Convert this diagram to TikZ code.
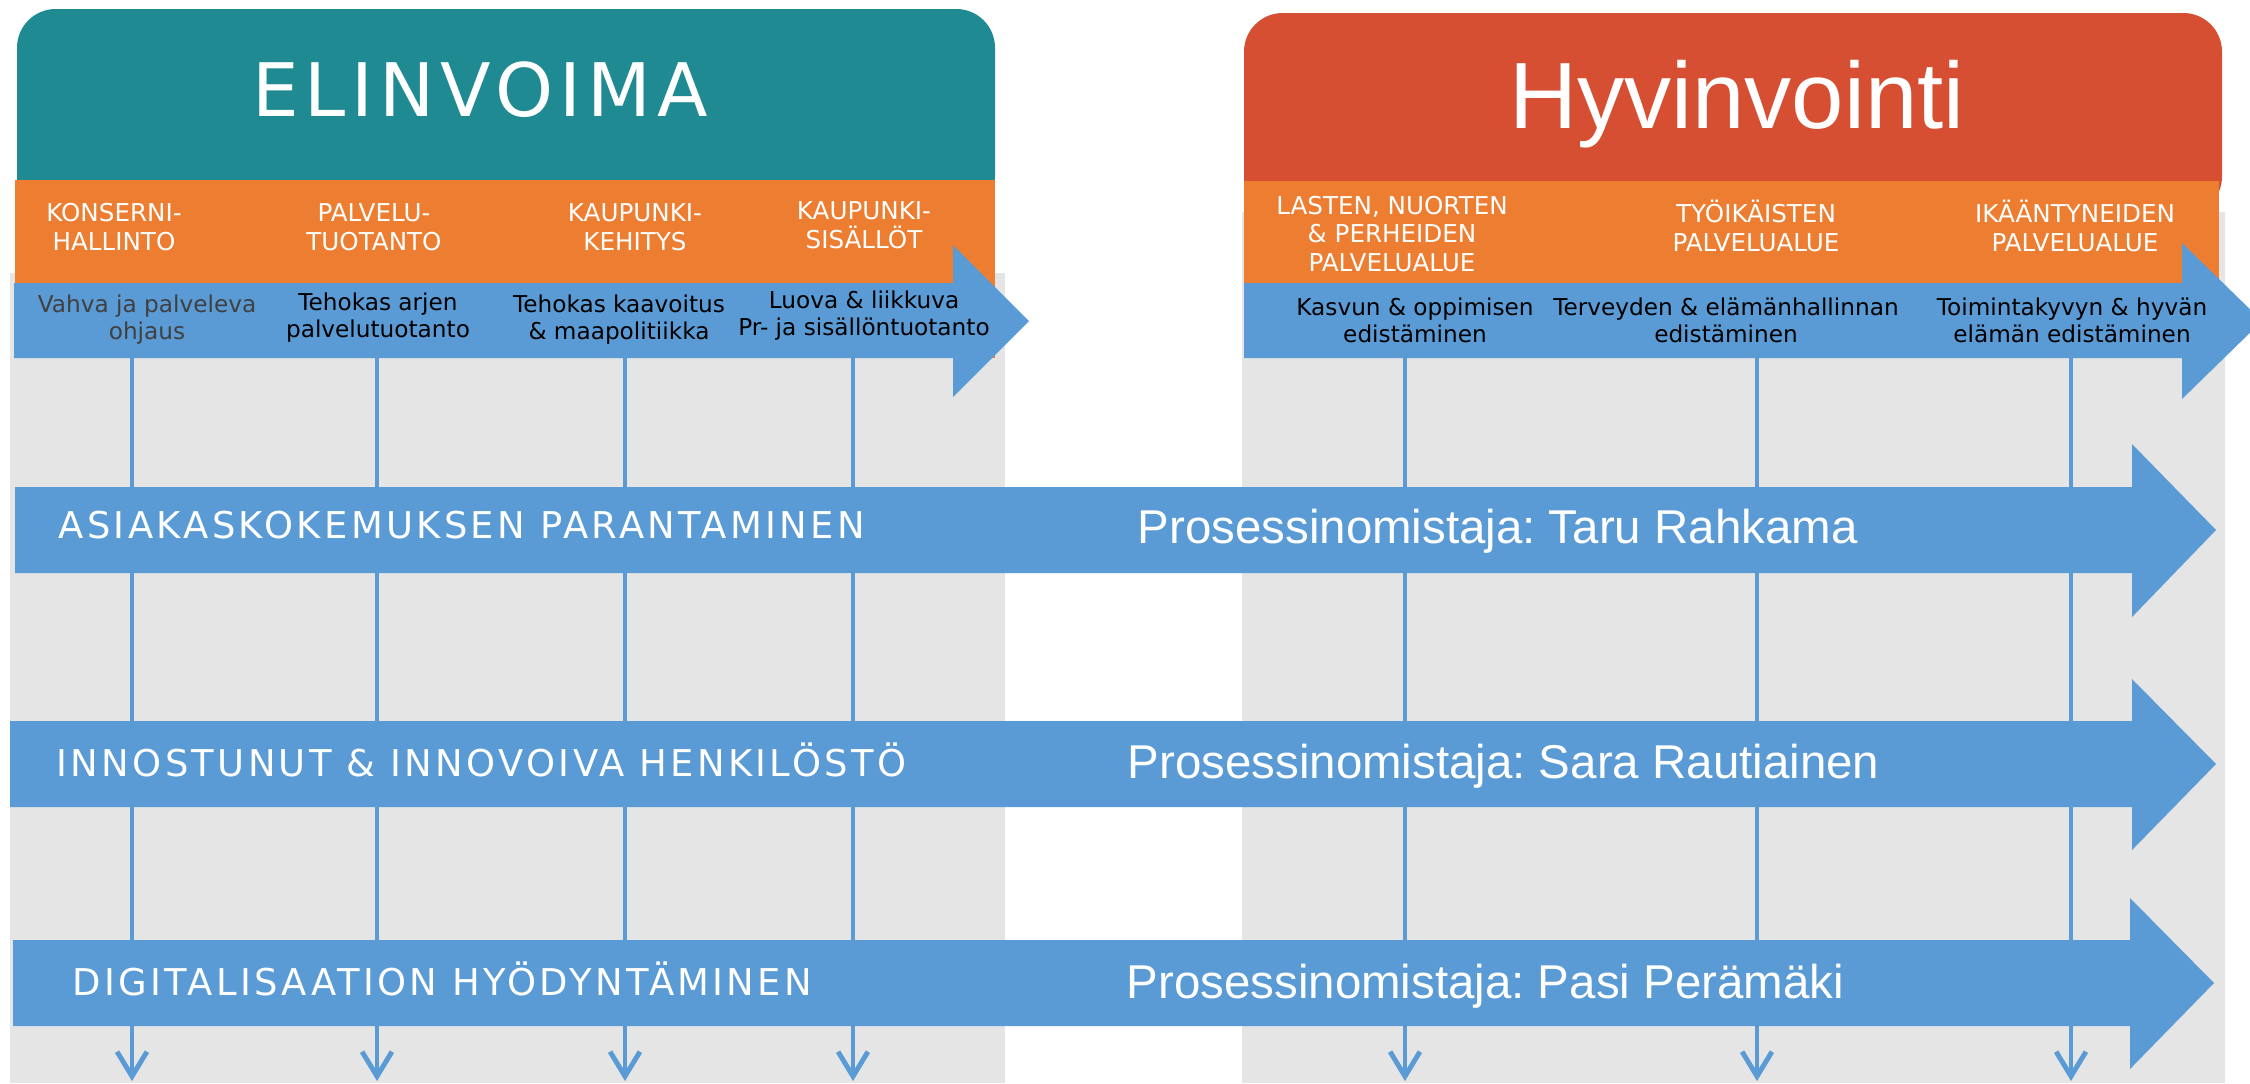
\documentclass[tikz,border=0pt]{standalone}
\usepackage{fontspec}
\setmainfont{DejaVu Sans}
\newfontfamily\arialfont{Liberation Sans}
\newfontfamily\capsfont[LetterSpace=9]{DejaVu Sans}
\newfontfamily\titlefont[LetterSpace=8]{DejaVu Sans}
\usetikzlibrary{arrows.meta}
\frenchspacing
\definecolor{elteal}{RGB}{31,138,146}
\definecolor{hyred}{RGB}{214,79,51}
\definecolor{unitorange}{RGB}{237,125,49}
\definecolor{flowblue}{RGB}{91,155,213}
\definecolor{bggray}{RGB}{229,229,229}
\tikzset{
  head/.style={text=white, align=center, inner sep=0pt, font=\fontsize{7}{8.2}\selectfont},
  goal/.style={text=black, align=center, inner sep=0pt, font=\fontsize{6.6}{7.7}\selectfont},
  band/.style={text=white, anchor=base west, inner sep=0pt, font=\capsfont\fontsize{10.5}{12}\selectfont},
  owner/.style={text=white, anchor=base west, inner sep=0pt, font=\arialfont\fontsize{13.5}{16}\selectfont},
  vline/.style={draw=flowblue, line width=1.4pt, -{Straight Barb[length=7pt,width=8.5pt]}},
}
\begin{document}
\begin{tikzpicture}[x=0.1mm,y=-0.1mm]
  \useasboundingbox (0,0) rectangle (2250,1083);
  \fill[bggray] (10,273) rectangle (1005,1083);
  \fill[bggray] (1242,212) rectangle (2225,1083);
  \fill[elteal, rounded corners=11pt] (17,9) rectangle (995,215);
  \fill[hyred, rounded corners=11pt] (1244,13) rectangle (2222,215);
  \fill[unitorange] (15,180) rectangle (995,358);
  \fill[unitorange] (1244,181) rectangle (2219,358);
  \foreach \x [count=\i] in {132,377,625,853,1405,1757,2071}{
    \coordinate (top\i) at (\x,358);
    \coordinate (bot\i) at (\x,1081);
    \draw[vline] (top\i) -- (bot\i);
  }
  \fill[flowblue] (14,283) -- (953,283) -- (953,245) -- (1029,321)
    -- (953,397) -- (953,358) -- (14,358) -- cycle;
  \fill[flowblue] (1244,283) -- (2182,283) -- (2182,243) -- (2262,321)
    -- (2182,399) -- (2182,358) -- (1244,358) -- cycle;
  \fill[flowblue] (15,487) -- (2132,487) -- (2132,444) -- (2216,530)
    -- (2132,617) -- (2132,573) -- (15,573) -- cycle;
  \fill[flowblue] (10,721) -- (2132,721) -- (2132,679) -- (2216,764)
    -- (2132,850) -- (2132,807) -- (10,807) -- cycle;
  \fill[flowblue] (13,940) -- (2130,940) -- (2130,898) -- (2214,983)
    -- (2130,1069) -- (2130,1026) -- (13,1026) -- cycle;

  \node[anchor=base, text=white, font=\titlefont\fontsize{21}{25}\selectfont]
    (elinvoima) at (480,116) {ELINVOIMA};
  \node[anchor=base, text=white, font=\arialfont\fontsize{26.8}{32}\selectfont]
    (hyvinvointi) at (1737,128) {Hyvinvointi};

  \node[head] (konserni) at (114,227) {KONSERNI-\\HALLINTO};
  \node[head] (palvelu) at (374,227) {PALVELU-\\TUOTANTO};
  \node[head] (kehitys) at (635,227) {KAUPUNKI-\\KEHITYS};
  \node[head] (sisallot) at (864,225) {KAUPUNKI-\\SISÄLLÖT};
  \node[head] (lapset) at (1392,234) {LASTEN, NUORTEN\\\& PERHEIDEN\\PALVELUALUE};
  \node[head] (tyoikaiset) at (1756,226) {TYÖIKÄISTEN\\PALVELUALUE};
  \node[head] (ikaantyneet) at (2075,226) {IKÄÄNTYNEIDEN\\PALVELUALUE};

  \node[goal, text=black!75] (ohjaus) at (147,320) {Vahva ja palveleva\\ohjaus};
  \node[goal] (arki) at (378,318) {Tehokas arjen\\palvelutuotanto};
  \node[goal] (kaavoitus) at (619,320) {Tehokas kaavoitus\\\& maapolitiikka};
  \node[goal] (luova) at (864,316) {Luova \& liikkuva\\Pr- ja sisällöntuotanto};
  \node[goal] (kasvu) at (1415,320) {Kasvun \& oppimisen\\edistäminen};
  \node[goal] (terveys) at (1726,320) {Terveyden \& elämänhallinnan\\edistäminen};
  \node[goal] (toimintakyky) at (2072,320) {Toimintakyvyn \& hyvän\\elämän edistäminen};

  \node[band] (asiakas) at (58,538) {ASIAKASKOKEMUKSEN PARANTAMINEN};
  \node[band] (henkilosto) at (56,776) {INNOSTUNUT \& INNOVOIVA HENKILÖSTÖ};
  \node[band] (digi) at (72,995) {DIGITALISAATION HYÖDYNTÄMINEN};
  \node[owner] (taru) at (1137,543) {Prosessinomistaja: Taru Rahkama};
  \node[owner] (sara) at (1127,778) {Prosessinomistaja: Sara Rautiainen};
  \node[owner] (pasi) at (1126,998) {Prosessinomistaja: Pasi Perämäki};
\end{tikzpicture}
\end{document}
